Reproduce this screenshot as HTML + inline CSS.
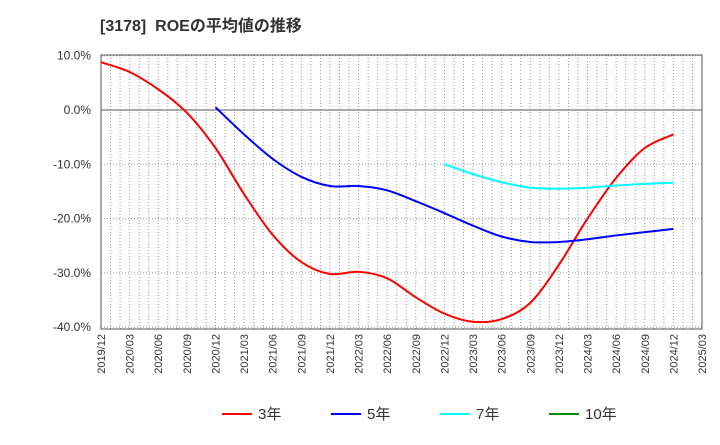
<!DOCTYPE html>
<html><head><meta charset="utf-8">
<style>
body{margin:0;background:#fff;font-family:"Liberation Sans","Noto Sans CJK JP",sans-serif;}
svg text{font-family:"Liberation Sans","Noto Sans CJK JP",sans-serif;}
</style></head>
<body>
<svg id="chart" width="720" height="440">
<text x="100" y="31" font-size="16" font-weight="bold" fill="#333" style="white-space:pre">[3178]  ROEの平均値の推移</text>
<g id="grid"></g>
<g id="axes"></g>
<g id="series"></g>
<g id="legend"></g>
</svg>
<script>
const xLabels=["2019/12","2020/03","2020/06","2020/09","2020/12","2021/03","2021/06","2021/09","2021/12","2022/03","2022/06","2022/09","2022/12","2023/03","2023/06","2023/09","2023/12","2024/03","2024/06","2024/09","2024/12","2025/03"];
const yTicks=[10,0,-10,-20,-30,-40];
const roe3=[8.8,7,3.8,-0.5,-7,-15.5,-23,-28,-30.2,-29.8,-31,-34.5,-37.5,-39,-38.5,-35.5,-28.5,-20,-12.5,-7,-4.5];
const roe5Start=4;
const roe5=[0.5,-4.5,-9,-12.3,-14,-14,-14.8,-16.8,-19,-21.3,-23.3,-24.3,-24.3,-23.8,-23.1,-22.5,-21.9];
const roe7Start=12;
const roe7=[-10,-11.8,-13.3,-14.3,-14.5,-14.3,-13.9,-13.6,-13.4];
const roe10=[];
const L=101,R=702,T=55,B=329;
const xs=i=>L+(R-L)*i/(xLabels.length-1);
const ys=v=>110-(v)*54.3/10;
const NS="http://www.w3.org/2000/svg";
function mk(tag,attrs,parent){const e=document.createElementNS(NS,tag);for(const k in attrs)e.setAttribute(k,attrs[k]);parent.appendChild(e);return e;}
const grid=document.getElementById('grid'),axes=document.getElementById('axes'),series=document.getElementById('series'),legend=document.getElementById('legend');
for(let m=1;m<(xLabels.length-1)*3;m++){const x=L+(R-L)*m/((xLabels.length-1)*3);
const g=mk('line',{x1:x,x2:x,y1:T,y2:B,stroke:'#999','stroke-width':1,'stroke-dasharray':'1,2'},grid);
}
yTicks.forEach(v=>{const y=ys(v);
const g=mk('line',{x1:L,x2:R,y1:y,y2:y,stroke:v===0?'#777':'#999','stroke-width':v===0?1.2:1,'stroke-dasharray':v===0?'':'1,2'},grid);

const t=mk('text',{x:L-10,y:y+4,'text-anchor':'end','font-size':12,fill:'#333'},axes);t.textContent=v.toFixed(1)+'%';
});
const fr=mk('rect',{x:L,y:T,width:R-L,height:B-T,fill:'none',stroke:'#555','stroke-width':1},axes);

xLabels.forEach((l,i)=>{const x=xs(i);const t=mk('text',{transform:`translate(${x+4},${B+5}) rotate(-90)`,'text-anchor':'end','font-size':11,fill:'#333'},axes);t.textContent=l;
});
function path(vals,start){const p=vals.map((v,i)=>[xs(start+i),ys(v)]);if(p.length<2)return '';
let d=`M${p[0][0]},${p[0][1]}`;
for(let i=0;i<p.length-1;i++){const p0=p[i-1]||p[i],p1=p[i],p2=p[i+1],p3=p[i+2]||p2;
d+=` C${p1[0]+(p2[0]-p0[0])/6},${p1[1]+(p2[1]-p0[1])/6} ${p2[0]-(p3[0]-p1[0])/6},${p2[1]-(p3[1]-p1[1])/6} ${p2[0]},${p2[1]}`;}
return d;}
[[roe3,0,'#f00','line-3yr'],[roe5,roe5Start,'#00f','line-5yr'],[roe7,roe7Start,'#0ff','line-7yr'],[roe10,0,'#080','line-10yr']].forEach(s=>{
const d=path(s[0],s[1]);if(!d)return;const e=mk('path',{d:d,fill:'none',stroke:s[2],'stroke-width':2},series);
});
const leg=[['3年','#f00',222],['5年','#00f',331],['7年','#0ff',440],['10年','#080',549]];
leg.forEach(l=>{const g=mk('g',{},legend);
mk('line',{x1:l[2],x2:l[2]+30,y1:414,y2:414,stroke:l[1],'stroke-width':2},g);
const t=mk('text',{x:l[2]+36,y:419,'font-size':15,fill:'#333'},g);t.textContent=l[0];});
</script>
</body></html>
